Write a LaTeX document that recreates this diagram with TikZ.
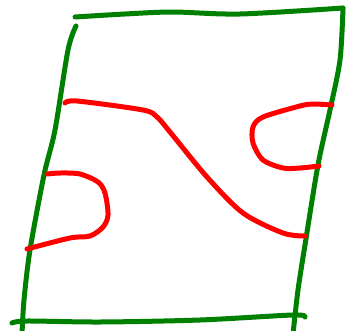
\documentclass[tikz,border=0pt]{standalone}
\usetikzlibrary{arrows.meta,positioning}
\definecolor{sketchgreen}{RGB}{0,128,0}
\definecolor{sketchred}{RGB}{255,0,0}
\tikzset{
      frameline/.style={
        draw=sketchgreen,
        line width=5pt,
        line cap=round,
        line join=round
      },
      strandline/.style={
        draw=sketchred,
        line width=5pt,
        line cap=round,
        line join=round
      }
    }

\begin{document}
\begin{tikzpicture}[x=1pt,y=-1pt]
    \useasboundingbox (0,0) rectangle (346,330);
    \begin{scope}
    \clip (0,0) rectangle (346,330);
    % frame
    \draw[frameline] plot[smooth] coordinates {(75,17) (125,14) (173,12) (240,14) (343,8)};
    \draw[frameline] plot[smooth] coordinates {(76,26) (68,50) (55,130) (44,175) (30,250) (24,300) (22,334)};
    \draw[frameline] plot[smooth] coordinates {(343,8) (340,60) (330,110) (318,165) (305,245) (298,290) (293,334)};
    \draw[frameline] plot[smooth] coordinates {(12,323) (27,321) (100,322) (200,320) (293,315) (305,317)};
    % strands
    \draw[strandline] plot[smooth] coordinates {(65,103) (77,101) (143,110) (157,117) (170,132) (207,177) (243,213) (283,233) (305,236)};
    \draw[strandline] plot[smooth] coordinates {(47,174) (60,173) (80,174) (98,182) (105,193) (108,215) (103,227) (90,236) (70,238) (27,249)};
    \draw[strandline] plot[smooth] coordinates {(332,105) (313,104) (300,106) (263,117) (253,127) (253,143) (263,160) (283,168) (300,168) (319,166)};
    \end{scope}
    \end{tikzpicture}
\end{document}
